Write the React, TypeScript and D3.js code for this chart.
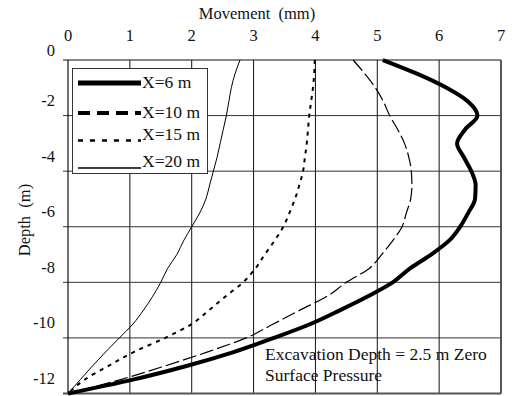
import React from "react";
import * as d3 from "d3";

// Depth below ground surface (m), shared by all profiles
const depths = [0, -0.5, -1, -1.5, -2, -2.5, -3, -3.5, -4, -4.5, -5, -5.5, -6, -6.5, -7, -7.5, -8, -8.5, -9, -9.5, -10, -10.5, -11, -11.5, -12];

// Lateral movement (mm) at each depth, by distance X from the excavation
const moveX6 = [5.09, 5.65, 6.12, 6.47, 6.62, 6.42, 6.29, 6.4, 6.52, 6.59, 6.58, 6.47, 6.34, 6.16, 5.87, 5.53, 5.25, 4.85, 4.4, 3.92, 3.33, 2.69, 1.93, 1.05, 0];
const moveX10 = [4.61, 4.8, 4.97, 5.1, 5.2, 5.33, 5.44, 5.51, 5.55, 5.56, 5.54, 5.47, 5.4, 5.25, 5.07, 4.87, 4.5, 4.19, 3.75, 3.32, 2.88, 2.26, 1.58, 0.85, 0];
const moveX15 = [3.99, 3.98, 3.96, 3.93, 3.9, 3.88, 3.86, 3.83, 3.8, 3.74, 3.67, 3.58, 3.48, 3.34, 3.18, 3.03, 2.83, 2.55, 2.28, 2.0, 1.57, 1.07, 0.66, 0.27, 0];
const moveX20 = [2.78, 2.7, 2.64, 2.6, 2.56, 2.51, 2.46, 2.41, 2.35, 2.29, 2.23, 2.13, 2.0, 1.87, 1.76, 1.61, 1.5, 1.37, 1.22, 1.05, 0.83, 0.61, 0.4, 0.2, 0];

const seriesLabels = ["X=6 m", "X=10 m", "X=15 m", "X=20 m"];
const xTicks = [0, 1, 2, 3, 4, 5, 6, 7];
const yTicks = [0, -2, -4, -6, -8, -10, -12];

const FONT = "'Liberation Serif', 'Times New Roman', serif";

export default function App() {
  const left = 68, right = 501, top = 60, bottom = 393.5;
  const x = d3.scaleLinear().domain([0, 7]).range([left, right]);
  const y = d3.scaleLinear().domain([0, -12]).range([top, bottom]);

  const line = d3
    .line<[number, number]>()
    .x((d) => x(d[0]))
    .y((d) => y(d[1]))
    .curve(d3.curveMonotoneY);

  const series = [moveX6, moveX10, moveX15, moveX20];
  const styles = [
    { w: 4, dash: undefined as string | undefined },
    { w: 1.2, dash: "14,4" },
    { w: 2, dash: "4,5" },
    { w: 1, dash: undefined as string | undefined },
  ];
  const legendStyles = [
    { w: 5, dash: undefined as string | undefined, ly: 83, ty: 88 },
    { w: 4, dash: "12,7", ly: 113, ty: 118 },
    { w: 2.5, dash: "5,7", ly: 140.5, ty: 140 },
    { w: 1.5, dash: undefined as string | undefined, ly: 168, ty: 167 },
  ];

  return (
    <svg
      width={512}
      height={396}
      style={{ position: "absolute", left: 0, top: 0, background: "#fff" }}
      fontFamily={FONT}
    >
      <rect x={0} y={0} width={512} height={396} fill="#fff" />

      {/* grid */}
      {xTicks.slice(1, -1).map((t) => (
        <line key={"gx" + t} x1={x(t)} x2={x(t)} y1={top} y2={bottom} stroke="#111" strokeWidth={1} />
      ))}
      {yTicks.slice(1, -1).map((t) => (
        <line key={"gy" + t} x1={left - 5} x2={right} y1={y(t)} y2={y(t)} stroke="#333" strokeWidth={1} />
      ))}

      {/* frame */}
      <line x1={left - 5} x2={right} y1={top} y2={top} stroke="#111" strokeWidth={1} />
      <line x1={left} x2={left} y1={top} y2={bottom} stroke="#111" strokeWidth={1.2} />
      <line x1={left - 5} x2={right} y1={bottom} y2={bottom} stroke="#555" strokeWidth={2} />
      <line x1={right} x2={right} y1={top} y2={bottom} stroke="#555" strokeWidth={2} />

      {/* tick labels */}
      {xTicks.map((t) => (
        <text key={"tx" + t} x={x(t)} y={41} textAnchor="middle" fontSize={16.5} fill="#111">
          {t}
        </text>
      ))}
      {yTicks.map((t) => (
        <text key={"ty" + t} x={55} y={t === 0 ? 55.5 : y(t) - 9.5} textAnchor="end" fontSize={16.5} fill="#111">
          {t}
        </text>
      ))}

      <text x={257} y={19} textAnchor="middle" fontSize={16.5} fill="#111" style={{ whiteSpace: "pre" }}>
        {"Movement  (mm)"}
      </text>
      <text
        transform="translate(30,220) rotate(-90)"
        textAnchor="middle"
        fontSize={16.5}
        fill="#111"
        style={{ whiteSpace: "pre" }}
      >
        {"Depth  (m)"}
      </text>

      {/* profiles */}
      {series.map((vals, i) => (
        <path
          key={"s" + i}
          d={line(vals.map((v, j) => [v, depths[j]] as [number, number])) || ""}
          fill="none"
          stroke="#000"
          strokeWidth={styles[i].w}
          strokeDasharray={styles[i].dash}
          strokeLinejoin="round"
        />
      ))}

      {/* legend */}
      <rect x={72.5} y={68.5} width={135} height={105} fill="#fff" stroke="#333" strokeWidth={1} />
      {seriesLabels.map((lab, i) => (
        <g key={"lg" + i}>
          <line
            x1={78}
            x2={141}
            y1={legendStyles[i].ly}
            y2={legendStyles[i].ly}
            stroke="#000"
            strokeWidth={legendStyles[i].w}
            strokeDasharray={legendStyles[i].dash}
          />
          <text x={142} y={legendStyles[i].ty} fontSize={17.5} fill="#111">
            {lab}
          </text>
        </g>
      ))}

      {/* annotation */}
      <text x={265} y={360} fontSize={17.5} fill="#111">
        Excavation Depth = 2.5 m Zero
      </text>
      <text x={265} y={381} fontSize={17.5} fill="#111">
        Surface Pressure
      </text>
    </svg>
  );
}
